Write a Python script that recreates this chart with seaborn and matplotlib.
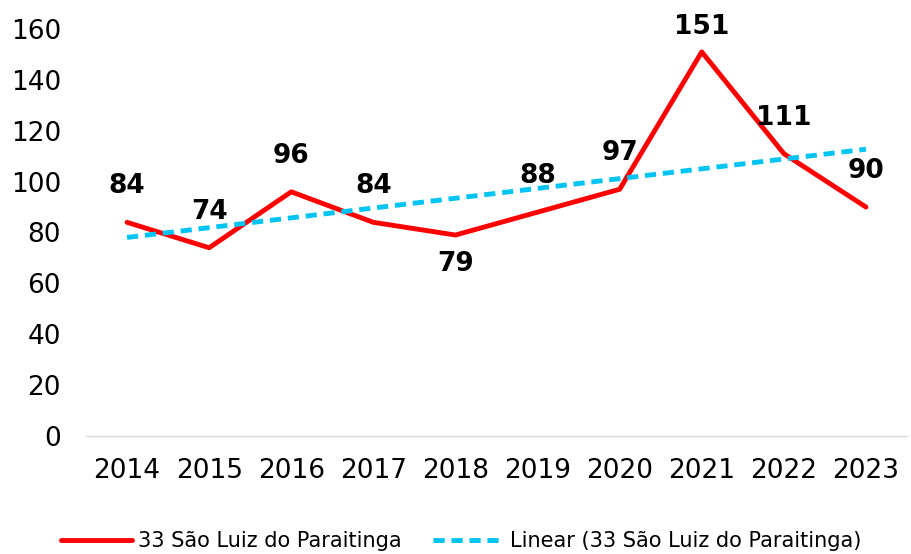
import numpy as np
import pandas as pd
import seaborn as sns
import matplotlib.pyplot as plt

years = ["2014", "2015", "2016", "2017", "2018", "2019", "2020", "2021", "2022", "2023"]
values = [84, 74, 96, 84, 79, 88, 97, 151, 111, 90]
series_name = "33 São Luiz do Paraitinga"
trend_name = "Linear (33 São Luiz do Paraitinga)"

sns.set_style("white")
plt.rcParams["font.family"] = "sans-serif"
plt.rcParams["font.sans-serif"] = ["DejaVu Sans"]
plt.rcParams["text.color"] = "black"
plt.rcParams["xtick.color"] = "black"
plt.rcParams["ytick.color"] = "black"

df = pd.DataFrame({"pos": np.arange(len(years)), "valor": values})
slope, intercept = np.polyfit(df["pos"], df["valor"], 1)
df["trend"] = intercept + slope * df["pos"]

fig = plt.figure(figsize=(9.11, 5.54), dpi=100)
ax = fig.add_axes([86 / 911, 1 - 436 / 554, 821 / 911, 407 / 554])

sns.lineplot(data=df, x="pos", y="valor", ax=ax, color="#FF0000", lw=3.5,
             label=series_name)
sns.lineplot(data=df, x="pos", y="trend", ax=ax, color="#00C4F4", lw=3.5,
             linestyle=(0, (2.3, 1.4)), label=trend_name)

# data labels
offsets = [26, 26, 26, 26, -21, 26, 26, 18, 26, 26]
for i, v in enumerate(values):
    ax.annotate(str(v), (i, v), xytext=(0, offsets[i]), textcoords="offset points",
                ha="center", va="center", fontsize=19, fontweight="bold",
                color="black")

ax.set_xlim(-0.5, len(years) - 0.5)
ax.set_ylim(0, 160)
ax.set_yticks(range(0, 161, 20))
ax.set_xticks(df["pos"])
ax.set_xticklabels(years)
ax.set_xlabel("")
ax.set_ylabel("")
ax.tick_params(axis="both", labelsize=19, length=0)
ax.tick_params(axis="x", pad=16)
ax.tick_params(axis="y", pad=18)
for s in ["top", "right", "left"]:
    ax.spines[s].set_visible(False)
ax.spines["bottom"].set_color("#D9D9D9")
ax.spines["bottom"].set_linewidth(1)

ax.legend(loc="center", bbox_to_anchor=(461 / 911, 1 - 541 / 554),
          bbox_transform=fig.transFigure, ncol=2, frameon=False,
          fontsize=15, handlelength=3.4, columnspacing=1.5, handletextpad=0.3)

fig.savefig("out.png", dpi=100)
